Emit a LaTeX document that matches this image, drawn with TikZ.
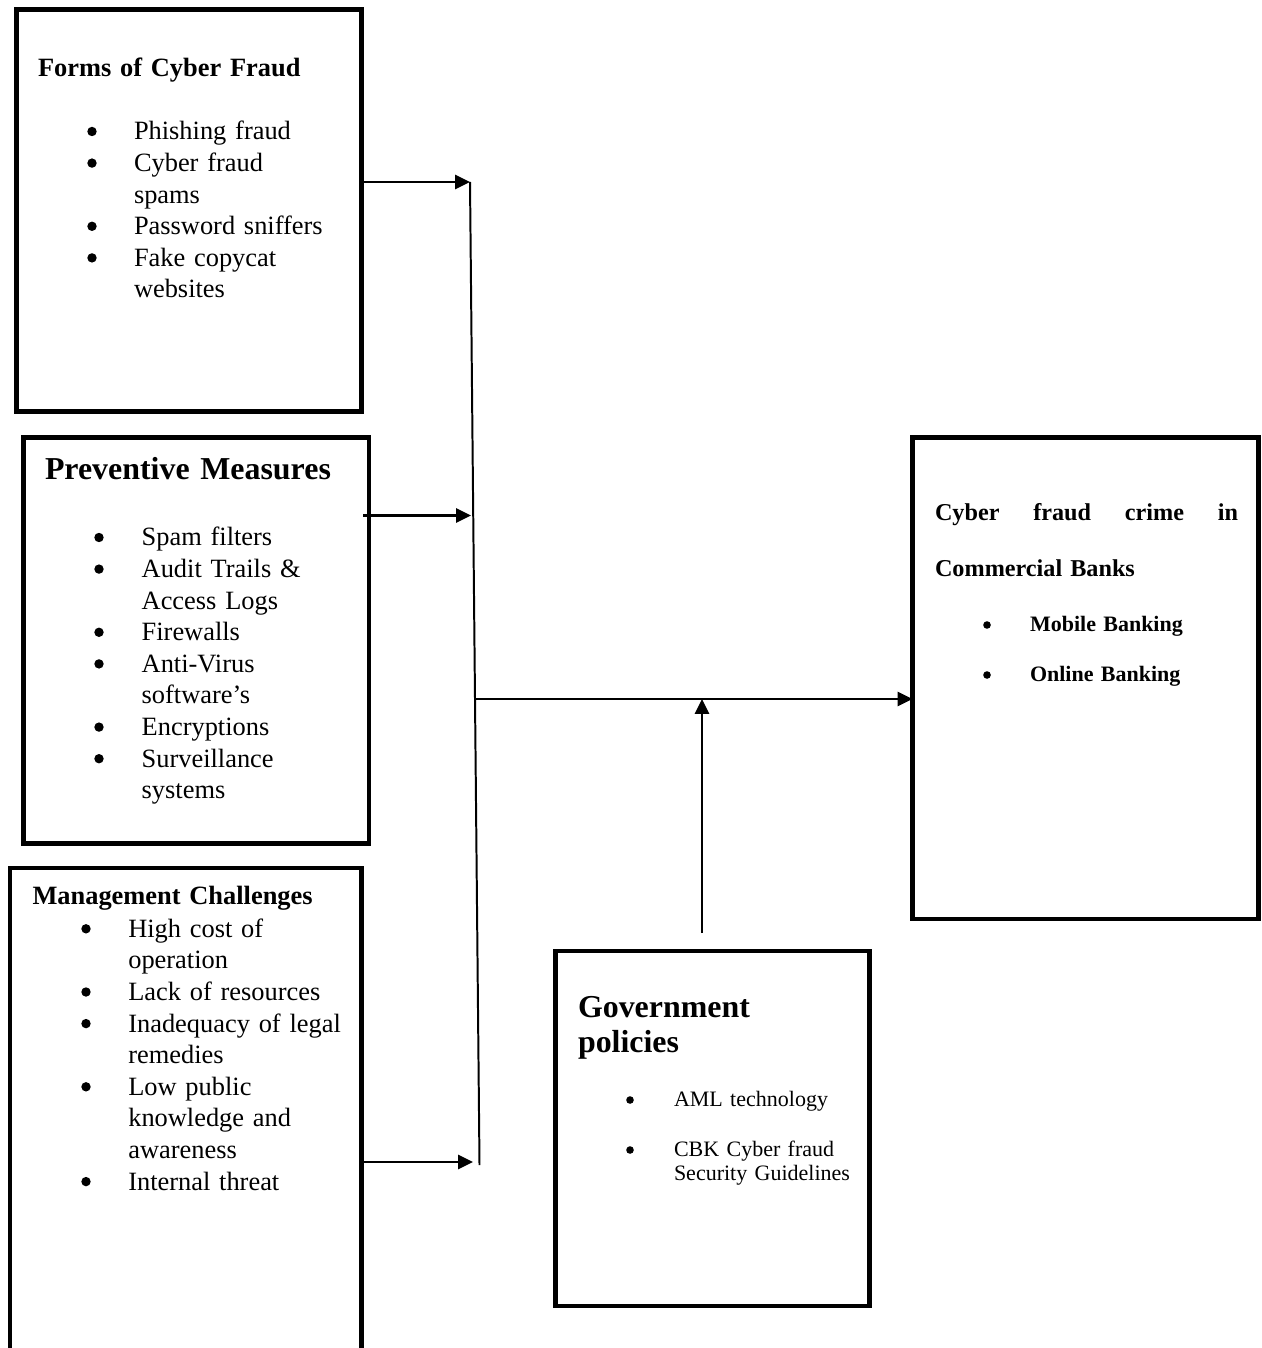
\documentclass[tikz,border=0pt]{standalone}
\usepackage{fontspec}
\setmainfont{Liberation Serif}
\usetikzlibrary{arrows.meta}

\newlength\pxu
\setlength\pxu{0.4545pt}

\begin{document}
\begin{tikzpicture}[x=0.4545pt,y=-0.4545pt,inner sep=0pt,outer sep=0pt,
framebox/.style={draw,rectangle,anchor=north west,line width=2.2pt},
boxtitle/.style={anchor=base west,text width=#1\pxu},
itemlist/.style={anchor=base west,text width=#1\pxu,font=\fontsize{12}{14.36}\selectfont},
conn/.style={line width=1.2pt,-{Triangle[length=6.8pt,width=6.4pt]}}]
\useasboundingbox (0,0) rectangle (1261,1348);

% boxes
\node[framebox,minimum width=345\pxu,minimum height=402\pxu] (F) at (16.5,9.5) {};
\node[framebox,minimum width=345.5\pxu,minimum height=406\pxu] (P) at (23.5,437.5) {};
\node[anchor=north west,minimum width=351.5\pxu,minimum height=480\pxu] (M) at (10,868) {};
\draw[line width=2.2pt] (M.south west) |- (M.north east) -- (M.south east);
\node[framebox,minimum width=346\pxu,minimum height=481.5\pxu] (C) at (912.5,437.5) {};
\node[framebox,minimum width=314\pxu,minimum height=355\pxu] (G) at (555.5,951) {};

% Forms of Cyber Fraud
\node[boxtitle=300,font=\fontsize{12}{14}\bfseries] (Ft) at (38,77) {Forms of Cyber Fraud};
\node[itemlist=240] (Fl) at (134,140) {Phishing fraud\\Cyber fraud\\spams\\Password sniffers\\Fake copycat\\websites};
\foreach \k in {0,1,3,4} \fill (92,{131.5+31.6*\k}) circle[radius=4.7];

% Preventive Measures
\node[boxtitle=320,font=\fontsize{14.5}{16}\bfseries] (Pt) at (45,480) {Preventive Measures};
\node[itemlist=220] (Pl) at (141.7,546) {Spam filters\\Audit Trails \&\\Access Logs\\Firewalls\\Anti-Virus\\software’s\\Encryptions\\Surveillance\\systems};
\foreach \k in {0,1,3,4,6,7} \fill (99,{537.5+31.6*\k}) circle[radius=4.7];

% Management Challenges
\node[boxtitle=320,font=\fontsize{12}{14}\bfseries] (Mt) at (32.5,904) {Management Challenges};
\node[itemlist=230] (Ml) at (128.3,937.3) {High cost of\\operation\\Lack of resources\\Inadequacy of legal\\remedies\\Low public\\knowledge and\\awareness\\Internal threat};
\foreach \k in {0,2,3,5,8} \fill (86,{928.8+31.6*\k}) circle[radius=4.7];

% Cyber fraud crime in Commercial Banks
\node[boxtitle=320,font=\fontsize{11}{25.5}\bfseries] (Ct) at (935,520.7) {\hbox to 303\pxu{Cyber\hfill fraud\hfill crime\hfill in}\\Commercial Banks};
\node[boxtitle=200,font=\fontsize{10}{22.7}\bfseries] (Cl) at (1030,631.7) {Mobile Banking\\Online Banking};
\foreach \k in {0,1} \fill (987,{625+50*\k}) circle[radius=3.8];

% Government policies
\node[boxtitle=250,font=\fontsize{14.5}{16}\bfseries] (Gt) at (578,1017) {Government\\policies};
\node[boxtitle=200,font=\fontsize{10}{10.9}\selectfont] (Gl) at (674,1106.7) {AML technology\\[26\pxu]CBK Cyber fraud\\Security Guidelines};
\foreach \k in {0,1} \fill (630,{1100+50*\k}) circle[radius=3.8];

% connectors
\coordinate (jtop) at (470,182);
\coordinate (jbot) at (479.5,1165);
\coordinate (jp) at (471,515.5);
\coordinate (jm) at (473,1162);
\coordinate (jc) at (476,699);
\coordinate (gu) at (702,933);
\draw[line width=0.9pt] (jtop) -- (jbot);
\draw[conn] (F.east |- jtop) -- (jtop);
\draw[conn] ([xshift=-2.7pt]P.east |- jp) -- (jp);
\draw[conn] (M.east |- jm) -- (jm);
\draw[conn] (jc) -- (jc -| C.west);
\draw[conn] (gu) -- (gu |- jc);
\end{tikzpicture}
\end{document}
